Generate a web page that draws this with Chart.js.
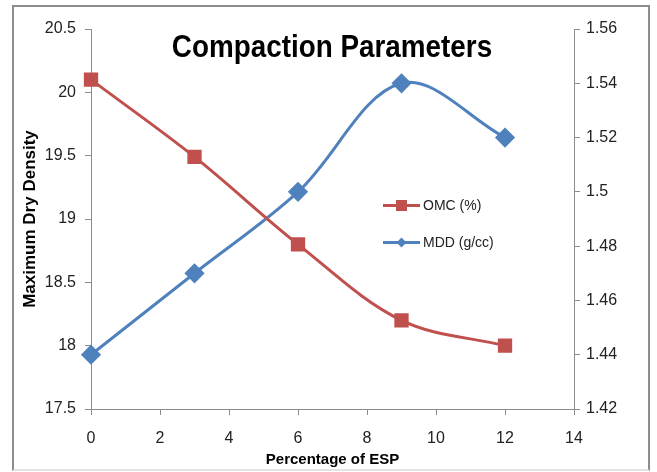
<!DOCTYPE html>
<html>
<head>
<meta charset="utf-8">
<script src="https://cdn.jsdelivr.net/npm/chart.js@4.4.0/dist/chart.umd.min.js"></script>
<style>
  body { margin: 0; background: #fff; }
  #wrap { position: relative; width: 657px; height: 472px; overflow: hidden; }
  #frame { position: absolute; left: 12px; top: 5px; width: 634px; height: 462px; border: 2px solid #8c8c8c; border-bottom-color: #e4e4e4; pointer-events: none; }
  #title { position: absolute; left: 0; width: 664px; top: 28px; text-align: center; font: bold 32px "Liberation Sans", Arial, sans-serif; color: #000; transform: scaleX(0.87); }
  .leg { position: absolute; font: 14px "Liberation Sans", sans-serif; color: #222; }
  .leg .ln { position: absolute; left: 0; top: 8px; width: 37px; height: 3px; }
  .leg span.t { position: absolute; left: 40px; top: 1px; white-space: nowrap; }
  .leg .mk { position: absolute; }
</style>
</head>
<body>
<div id="wrap">
  <canvas id="chart" width="657" height="472"></canvas>
  <div id="frame"></div>
  <div id="title">Compaction Parameters</div>
  <div class="leg" style="left:383px; top:196px;">
    <div class="ln" style="background:#C0504D"></div>
    <div class="mk" style="left:13px; top:4px; width:11px; height:11px; background:#C0504D"></div>
    <span class="t">OMC (%)</span>
  </div>
  <div class="leg" style="left:383px; top:233px;">
    <div class="ln" style="background:#4F81BD"></div>
    <div class="mk" style="left:15px; top:6px; width:7px; height:7px; background:#4F81BD; transform:rotate(45deg)"></div>
    <span class="t">MDD (g/cc)</span>
  </div>
</div>
<script>
// Prozentsatz ESP
const espPercent = [0, 3, 6, 9, 12];
// Werte
const omcValues = [20.1, 19.49, 18.8, 18.2, 18.0];
const mddValues = [1.44, 1.47, 1.50, 1.54, 1.52];

const fontFamily = '"Liberation Sans", Arial, sans-serif';
const labelFont = { family: fontFamily, size: 16 };
const axisGray = '#8c8c8c';

function fmt(value) {
    return Number(value.toFixed(2)).toString();
}

const ctx = document.getElementById('chart').getContext('2d');
let chart = new Chart(ctx, {
    type: 'scatter',
    data: {
        datasets: [{
            label: 'OMC (%)',
            data: espPercent.map((x, i) => ({ x: x, y: omcValues[i] })),
            yAxisID: 'y',
            showLine: true,
            clip: false,
            borderColor: '#C0504D',
            backgroundColor: '#C0504D',
            borderWidth: 3,
            pointStyle: 'rect',
            pointRadius: 8,
            pointHoverRadius: 8,
            tension: 0.35
        }, {
            label: 'MDD (g/cc)',
            data: espPercent.map((x, i) => ({ x: x, y: mddValues[i] })),
            yAxisID: 'y2',
            showLine: true,
            clip: false,
            borderColor: '#4F81BD',
            backgroundColor: '#4F81BD',
            borderWidth: 3,
            pointStyle: 'rectRot',
            pointRadius: 8,
            pointHoverRadius: 8,
            tension: 0.35
        }]
    },
    options: {
        responsive: false,
        animation: false,
        layout: { padding: { left: 12, right: 0, top: 29, bottom: 0 } },
        plugins: { legend: { display: false }, tooltip: { enabled: false } },
        scales: {
            x: {
                type: 'linear', min: 0, max: 14,
                ticks: { stepSize: 2, color: '#222', font: labelFont, padding: 14, callback: fmt },
                grid: { drawOnChartArea: false, color: axisGray, tickLength: 6 },
                border: { color: axisGray, width: 1 },
                title: { display: true, text: 'Percentage of ESP', color: '#000', font: { family: fontFamily, size: 15, weight: 'bold' }, padding: { top: 0, bottom: 3 } },
                afterFit: function(s) { s.height = 63; }
            },
            y: {
                position: 'left', min: 17.5, max: 20.5,
                ticks: { stepSize: 0.5, color: '#222', font: labelFont, padding: 9, callback: fmt },
                grid: { drawOnChartArea: false, color: axisGray, tickLength: 6 },
                border: { color: axisGray, width: 1 },
                title: { display: true, text: 'Maximum Dry Density', color: '#000', font: { family: fontFamily, size: 17, weight: 'bold' }, padding: { top: 8, bottom: 0 } },
                afterFit: function(s) { s.width = 79; }
            },
            y2: {
                position: 'right', min: 1.42, max: 1.56,
                ticks: { stepSize: 0.02, color: '#222', font: labelFont, padding: 6, callback: fmt },
                grid: { drawOnChartArea: false, color: axisGray, tickLength: 6 },
                border: { color: axisGray, width: 1 },
                afterFit: function(s) { s.width = 83; }
            }
        }
    }
});
</script>
</body>
</html>
